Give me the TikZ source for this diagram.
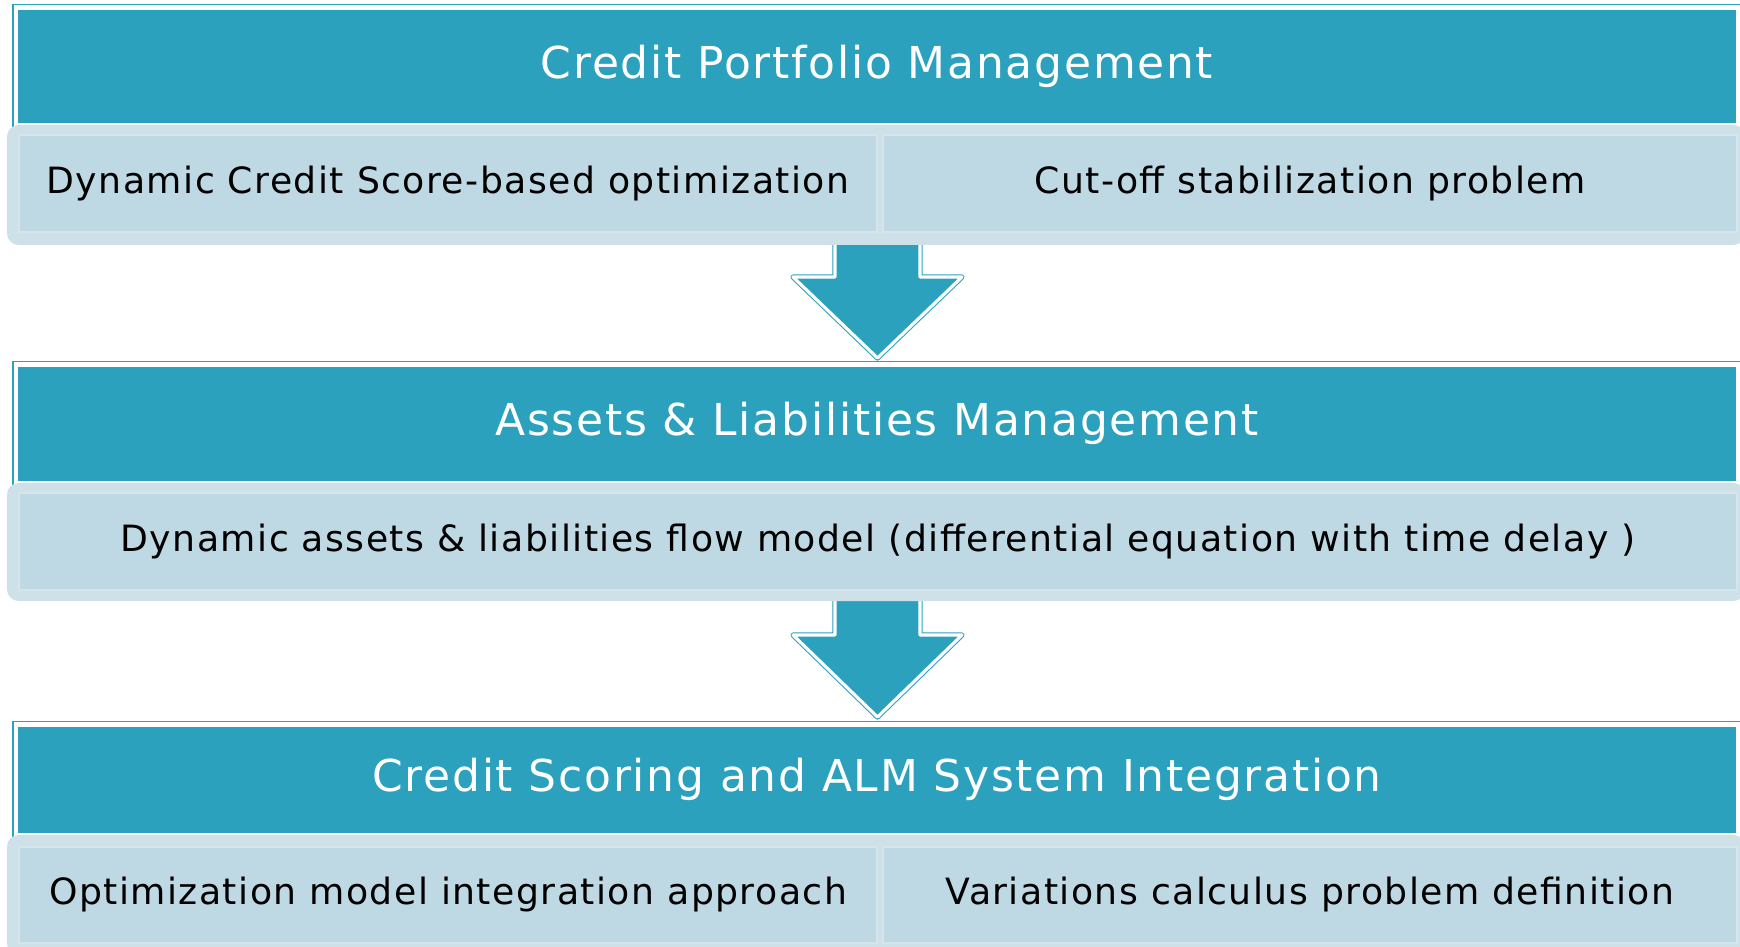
\documentclass[tikz,border=0pt]{standalone}
\usepackage{fontspec}
\setmainfont{DejaVu Sans}[LetterSpace=4]

\definecolor{headteal}{RGB}{44,161,190}
\definecolor{bandedge}{RGB}{206,225,233}
\definecolor{cellfill}{RGB}{190,217,227}
\definecolor{cellline}{RGB}{212,229,236}

\begin{document}
\begin{tikzpicture}[
        header/.style={draw=headteal,fill=headteal,double=white,double distance=1.3pt,line width=0.35pt,
            minimum width=17.22cm,inner sep=0pt,text=white,font=\fontsize{12.5}{15}\selectfont},
        band/.style={fill=bandedge,rounded corners=0.6ex,minimum width=17.38cm,inner sep=0pt},
        cell/.style={draw=cellline,fill=cellfill,line width=0.8pt,inner sep=0pt,font=\fontsize{10.3}{12}\selectfont},
        bigarrow/.style={draw=headteal,fill=headteal,double=white,double distance=0.9pt,line width=0.3pt,line join=round}
    ]
        \useasboundingbox (0,0) rectangle (17.40,-9.47);
        %% Arrows (drawn first, the bands cover the top of the shafts)
        \foreach \top/\neck/\tip in {2.40/2.77/3.58, 5.95/6.35/7.17}
            \draw[bigarrow] (8.35,-\top) -- (9.20,-\top) -- (9.20,-\neck) -- (9.62,-\neck)
                -- (8.775,-\tip) -- (7.93,-\neck) -- (8.35,-\neck) -- cycle;
        %% Headers
        \node[header,minimum height=1.175cm] (hdrA) at (8.77,-0.6625) {Credit Portfolio Management};
        \node[header,minimum height=1.185cm] (hdrB) at (8.77,-4.2375) {Assets \& Liabilities Management};
        \node[header,minimum height=1.105cm] (hdrC) at (8.77,-7.7975) {Credit Scoring and ALM System Integration};
        %% Bands
        \node[band,minimum height=1.20cm] (bandA) at (8.76,-1.85) {};
        \node[band,minimum height=1.18cm] (bandB) at (8.76,-5.42) {};
        \node[band,minimum height=1.20cm] (bandC) at (8.76,-8.95) {};
        %% Cells
        \node[cell,minimum width=8.58cm,minimum height=0.97cm] (cellAL) at (4.48,-1.835) {Dynamic Credit Score-based optimization};
        \node[cell,minimum width=8.54cm,minimum height=0.97cm] (cellAR) at (13.10,-1.835) {Cut-off stabilization problem};
        \node[cell,minimum width=17.18cm,minimum height=0.97cm] (cellB) at (8.78,-5.415) {Dynamic assets \& liabilities flow model (differential equation with time delay )};
        \node[cell,minimum width=8.58cm,minimum height=0.96cm] (cellCL) at (4.48,-8.95) {Optimization model integration approach};
        \node[cell,minimum width=8.54cm,minimum height=0.96cm] (cellCR) at (13.10,-8.95) {Variations calculus problem definition};
    \end{tikzpicture}
\end{document}
